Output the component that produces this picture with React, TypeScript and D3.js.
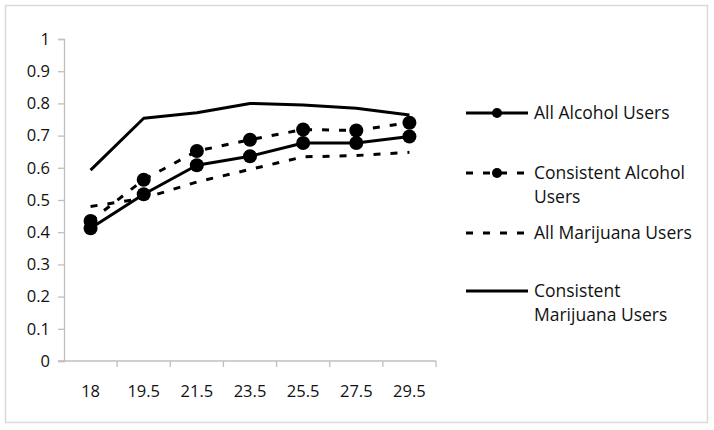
import * as d3 from "d3"
import React, { useEffect, useRef } from "react"

// Age groups on the x axis.
const ages = ["18", "19.5", "21.5", "23.5", "25.5", "27.5", "29.5"]
const yTicks = [0, 0.1, 0.2, 0.3, 0.4, 0.5, 0.6, 0.7, 0.8, 0.9, 1]

// Values.
const allAlcohol = [0.412, 0.518, 0.608, 0.636, 0.677, 0.677, 0.697]
const consistentAlcohol = [0.435, 0.563, 0.652, 0.687, 0.719, 0.716, 0.74]
const allMarijuana = [0.48, 0.505, 0.556, 0.595, 0.634, 0.638, 0.648]
const consistentMarijuana = [0.593, 0.754, 0.771, 0.8, 0.795, 0.785, 0.764]

const seriesNames = [
    ["All Alcohol Users"],
    ["Consistent Alcohol", "Users"],
    ["All Marijuana Users"],
    ["Consistent", "Marijuana Users"],
]

const FONT = "'Open Sans', sans-serif"

const App = () => {
    const refSvg = useRef<SVGSVGElement>(null)

    useEffect(() => {
        const svg = d3.select(refSvg.current)
        svg.selectAll("*").remove()

        const margins = { left: 64, right: 278, top: 39, bottom: 69 }
        const width = 714
        const height = 430

        // Outer chart border.
        svg.append("rect")
            .attr("x", 5.5).attr("y", 5.5)
            .attr("width", 702).attr("height", 417)
            .attr("fill", "white")
            .attr("stroke", "#d9d9d9")
            .attr("stroke-width", 1.5)

        const scaleX = d3.scaleBand()
                        .domain(ages)
                        .range([margins.left, width - margins.right])
        const scaleY = d3.scaleLinear()
                        .domain([0, 1])
                        .range([height - margins.bottom, margins.top])

        const axisColor = "#bfbfbf"

        // Y axis.
        const gY = svg.append("g")
                    .attr("transform", `translate(${margins.left}, 0)`)
                    .call(d3.axisLeft(scaleY).tickValues(yTicks).tickSize(6).tickPadding(8)
                        .tickFormat(d => String(d)))
        gY.select(".domain").attr("stroke", axisColor).attr("stroke-width", 1.3)
        gY.selectAll(".tick line").attr("stroke", axisColor).attr("stroke-width", 1.3)
        gY.selectAll(".tick text")
            .attr("font-family", FONT).attr("font-size", 16.5).attr("fill", "#111")

        // X axis: ticks on category boundaries, labels in the middle.
        const gX = svg.append("g")
        const y0 = scaleY(0)
        gX.append("line")
            .attr("x1", margins.left - 6).attr("x2", width - margins.right)
            .attr("y1", y0).attr("y2", y0)
            .attr("stroke", axisColor).attr("stroke-width", 1.3)
        const bounds = [...ages.map(a => scaleX(a)!), width - margins.right]
        gX.selectAll(".xtick")
            .data(bounds.slice(1))
            .join("line")
            .attr("class", "xtick")
            .attr("x1", d => d).attr("x2", d => d)
            .attr("y1", y0).attr("y2", y0 + 6)
            .attr("stroke", axisColor).attr("stroke-width", 1.3)
        gX.selectAll(".xlabel")
            .data(ages)
            .join("text")
            .attr("class", "xlabel")
            .attr("x", d => scaleX(d)! + scaleX.bandwidth() / 2)
            .attr("y", y0 + 36)
            .attr("text-anchor", "middle")
            .attr("font-family", FONT).attr("font-size", 16.5).attr("fill", "#111")
            .text(d => d)

        const series = [
            { values: allAlcohol, dash: null, marker: true },
            { values: consistentAlcohol, dash: "7,10", marker: true },
            { values: allMarijuana, dash: "7,10", marker: false },
            { values: consistentMarijuana, dash: null, marker: false },
        ]

        const line = d3.line<number>()
                    .x((d, i) => scaleX(ages[i])! + scaleX.bandwidth() / 2)
                    .y(d => scaleY(d))

        series.forEach(s => {
            svg.append("path")
                .attr("d", line(s.values))
                .attr("fill", "none")
                .attr("stroke", "black")
                .attr("stroke-width", 3)
                .attr("stroke-dasharray", s.dash)
                .attr("stroke-linejoin", "round")
            if (s.marker) {
                svg.append("g").selectAll("circle")
                    .data(s.values)
                    .join("circle")
                    .attr("cx", (d, i) => scaleX(ages[i])! + scaleX.bandwidth() / 2)
                    .attr("cy", d => scaleY(d))
                    .attr("r", 7)
                    .attr("fill", "black")
            }
        })

        // Legend.
        const legendY = [113, 173, 233, 291]
        const gLegend = svg.append("g")
        series.forEach((s, i) => {
            const y = legendY[i]
            gLegend.append("line")
                .attr("x1", 466).attr("x2", 528)
                .attr("y1", y).attr("y2", y)
                .attr("stroke", "black")
                .attr("stroke-width", 3)
                .attr("stroke-dasharray", s.dash ? "7,10" : null)
            if (s.marker) {
                gLegend.append("circle")
                    .attr("cx", 497).attr("cy", y).attr("r", 5)
                    .attr("fill", "black")
            }
            const text = gLegend.append("text")
                .attr("x", 534).attr("y", y)
                .attr("font-family", FONT).attr("font-size", 17.5).attr("fill", "#111")
            seriesNames[i].forEach((t, j) => {
                text.append("tspan")
                    .attr("x", 534)
                    .attr("dy", j == 0 ? "0.35em" : 24)
                    .text(t)
            })
        })
    }, [])

    return (
        <svg ref={refSvg} width={714} height={430}
            style={{ position: "absolute", left: 0, top: 0, background: "white" }}></svg>
    )
}

export default App
